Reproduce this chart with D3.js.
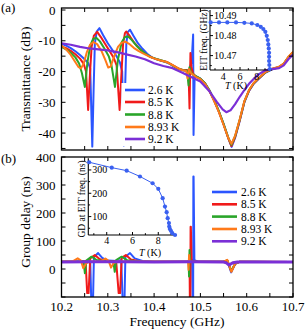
<!DOCTYPE html>
<html><head><meta charset="utf-8">
<script src="https://cdn.jsdelivr.net/npm/d3@7"></script>
<style>body{margin:0;background:#fff}svg{display:block}svg text{font-family:"Liberation Serif","Times New Roman",serif;fill:#000}</style>
</head><body><svg id="c" width="306" height="329" font-family="Liberation Serif, serif"></svg>
<script>
// ---------------- data ----------------
const temps = ["2.6 K", "8.5 K", "8.8 K", "8.93 K", "9.2 K"];
const colors = ["#2b55ff", "#f01a1a", "#2aa52a", "#ff7a1a", "#7b2fd6"];

const transBlue = [[10.200,-11.0],[10.210,-11.6],[10.220,-12.4],[10.230,-13.4],[10.240,-14.6],[10.250,-16.0],[10.258,-17.3],[10.262,-19],[10.2665,-44.4],[10.2695,-25],[10.272,-11],[10.276,-7],[10.282,-5.9],[10.290,-8.2],[10.300,-10.8],[10.310,-13],[10.318,-14.8],[10.326,-17],[10.331,-20],[10.3345,-44],[10.3375,-25],[10.340,-11],[10.343,-7.2],[10.348,-6.4],[10.355,-8.3],[10.365,-10.8],[10.375,-12.6],[10.385,-14.2],[10.395,-15.4],[10.405,-16],[10.415,-16.5],[10.425,-16.9],[10.435,-17.6],[10.445,-18.6],[10.455,-19.3],[10.465,-19.7],[10.475,-19.6],[10.481,-17],[10.4843,-8],[10.4852,-40.6],[10.4875,-22],[10.490,-21.5],[10.500,-22.3],[10.510,-23.8],[10.520,-26.3],[10.530,-29.5],[10.540,-33],[10.550,-37],[10.560,-41.5],[10.5675,-44.5],[10.575,-41.5],[10.585,-36],[10.595,-30],[10.605,-26.3],[10.615,-24],[10.625,-22.5],[10.640,-20.4],[10.655,-19.3],[10.670,-18.6],[10.680,-17.6],[10.690,-15.5],[10.700,-13.8]];
const transRed = [[10.200,-11.8],[10.210,-12.4],[10.220,-13.3],[10.230,-14.4],[10.240,-15.8],[10.248,-17.5],[10.253,-20],[10.2575,-32.5],[10.261,-22],[10.265,-12],[10.270,-8.3],[10.277,-7.1],[10.285,-8.8],[10.295,-11.2],[10.305,-13.6],[10.313,-15.6],[10.319,-18],[10.3255,-32.5],[10.329,-22],[10.333,-11],[10.337,-7.5],[10.340,-7.0],[10.348,-8.6],[10.358,-10.8],[10.368,-12.5],[10.378,-13.9],[10.390,-15.1],[10.402,-15.8],[10.415,-16.4],[10.428,-16.9],[10.440,-17.9],[10.452,-19],[10.462,-19.5],[10.471,-19.5],[10.4745,-21],[10.4765,-32],[10.4785,-14],[10.4805,-18.5],[10.484,-20.6],[10.490,-21.6],[10.500,-22.4],[10.510,-23.9],[10.520,-26.4],[10.530,-29.6],[10.540,-33.1],[10.550,-37.2],[10.560,-41.6],[10.567,-44.2],[10.575,-41.3],[10.585,-35.8],[10.595,-29.8],[10.605,-26.2],[10.615,-23.9],[10.625,-22.4],[10.640,-20.3],[10.655,-19.2],[10.670,-18.5],[10.680,-17.5],[10.690,-15.4],[10.700,-13.7]];
const transGreen = [[10.200,-12.0],[10.210,-12.8],[10.220,-13.9],[10.230,-15.4],[10.238,-17.4],[10.244,-20.5],[10.2505,-25],[10.256,-17],[10.262,-11.6],[10.268,-9.5],[10.275,-9.0],[10.283,-10.2],[10.293,-12.6],[10.302,-15],[10.308,-18],[10.3155,-25],[10.322,-16],[10.330,-10.5],[10.337,-8.8],[10.344,-8.6],[10.352,-9.8],[10.362,-11.6],[10.372,-13.1],[10.382,-14.3],[10.393,-15.3],[10.405,-15.9],[10.418,-16.5],[10.430,-17.1],[10.442,-18.2],[10.453,-19.1],[10.463,-19.6],[10.471,-19.7],[10.4745,-24.5],[10.4765,-18.6],[10.479,-20.2],[10.484,-20.9],[10.490,-21.5],[10.500,-22.3],[10.510,-23.8],[10.520,-26.2],[10.530,-29.4],[10.540,-32.9],[10.550,-37],[10.560,-41.4],[10.567,-43.8],[10.575,-41],[10.585,-35.6],[10.595,-29.7],[10.605,-26.1],[10.615,-23.8],[10.625,-22.3],[10.640,-20.3],[10.655,-19.2],[10.670,-18.5],[10.680,-17.5],[10.690,-15.3],[10.700,-13.7]];
const transOrange = [[10.200,-11.5],[10.210,-12.8],[10.220,-14.6],[10.230,-17],[10.237,-18.6],[10.242,-19],[10.248,-17.4],[10.255,-13.6],[10.262,-11.2],[10.269,-10.4],[10.277,-11.1],[10.287,-13.5],[10.295,-16.4],[10.301,-18.7],[10.306,-18.4],[10.313,-15.4],[10.322,-12],[10.330,-10.6],[10.338,-10.3],[10.346,-11],[10.356,-12.3],[10.366,-13.3],[10.377,-14.2],[10.389,-15.1],[10.401,-15.8],[10.414,-16.4],[10.427,-16.9],[10.440,-17.9],[10.452,-19],[10.462,-19.6],[10.469,-19.8],[10.4725,-22.3],[10.4752,-19.2],[10.479,-20.4],[10.484,-21],[10.490,-21.7],[10.500,-22.5],[10.510,-24],[10.520,-26.5],[10.530,-29.7],[10.540,-33.2],[10.550,-37.3],[10.560,-41.5],[10.567,-43.5],[10.575,-40.8],[10.585,-35.5],[10.595,-29.6],[10.605,-26],[10.615,-23.7],[10.625,-22.2],[10.640,-20.2],[10.655,-19.1],[10.670,-18.4],[10.680,-17.4],[10.690,-15.2],[10.700,-13.6]];
const transPurple = [[10.200,-10.8],[10.220,-11.3],[10.240,-12.0],[10.260,-12.5],[10.280,-12.8],[10.300,-13.1],[10.320,-13.7],[10.340,-14.4],[10.360,-15.1],[10.380,-16.0],[10.400,-17.3],[10.420,-18.2],[10.440,-18.9],[10.460,-20.3],[10.480,-21.8],[10.500,-23.2],[10.520,-26.5],[10.535,-29.8],[10.548,-32.3],[10.556,-33.2],[10.565,-32.6],[10.575,-30.6],[10.585,-28.2],[10.595,-26],[10.605,-24],[10.615,-22.4],[10.625,-21],[10.640,-19.6],[10.655,-19.2],[10.670,-18.9],[10.680,-18],[10.690,-16],[10.700,-14.5]];

const gdBlue = [[10.200,26],[10.220,26],[10.240,27],[10.255,28],[10.262,31],[10.2650,-160],[10.2675,-160],[10.270,42],[10.279,57],[10.288,40],[10.300,30],[10.320,29],[10.329,32],[10.3330,-160],[10.3355,-160],[10.338,44],[10.348,57],[10.358,38],[10.375,29],[10.400,26],[10.440,26],[10.475,27],[10.482,32],[10.4836,-160],[10.4843,-160],[10.4848,330],[10.4853,330],[10.487,32],[10.495,26],[10.550,26],[10.558,30],[10.5665,-12],[10.575,18],[10.585,26],[10.620,26],[10.660,25],[10.700,25]];
const gdRed = [[10.200,26],[10.240,27],[10.252,28],[10.2555,-86],[10.2585,-86],[10.262,38],[10.272,50],[10.282,36],[10.295,28],[10.318,29],[10.3235,-86],[10.3265,-86],[10.330,40],[10.339,50],[10.350,34],[10.370,27],[10.470,26],[10.4765,28],[10.4775,-160],[10.4782,-160],[10.4788,151],[10.4794,151],[10.481,28],[10.495,26],[10.550,26],[10.558,31],[10.5665,-8],[10.575,18],[10.585,26],[10.700,25]];
const gdGreen = [[10.200,26],[10.240,27],[10.2475,27],[10.2505,-15],[10.2535,30],[10.265,44],[10.276,32],[10.300,27],[10.312,27],[10.315,-10],[10.318,32],[10.330,44],[10.342,31],[10.370,27],[10.470,26],[10.4745,27],[10.4755,-27],[10.4765,68],[10.4775,28],[10.495,26],[10.550,26],[10.558,31],[10.5665,-6],[10.575,19],[10.585,26],[10.700,25]];
const gdOrange = [[10.200,26],[10.225,28],[10.235,38],[10.242,30],[10.247,3],[10.253,20],[10.262,27],[10.285,28],[10.295,37],[10.302,28],[10.307,5],[10.313,22],[10.322,27],[10.470,26],[10.4735,26],[10.4745,-3],[10.4755,50],[10.4765,27],[10.495,26],[10.550,26],[10.558,33],[10.567,-10],[10.575,20],[10.585,26],[10.700,25]];
const gdPurple = [[10.200,25],[10.260,26],[10.330,26],[10.400,25],[10.480,26],[10.550,25],[10.556,22],[10.562,14],[10.570,22],[10.580,25],[10.640,25],[10.700,25]];

// insets
const eitT = [2.48,3.48,4.48,5.52,6.52,7.41,8.08,8.49,8.80,9.04,9.21,9.33,9.40,9.45,9.49,9.49,9.49,9.52,9.57];
const eitF = [10.4866,10.4866,10.4866,10.4866,10.4864,10.4861,10.4853,10.4844,10.4833,10.4819,10.4799,10.4778,10.4756,10.4736,10.4714,10.4694,10.4673,10.4653,10.4633];
const gdT = [2.64,4.39,5.55,6.58,7.56,8.0,8.34,8.52,8.65,8.73,8.83,8.85,8.9,8.98,9.09,9.3];
const gdV = [333,310,297,272,243,219,179,143,119,93,72,57,47,39,29,21];

// tick labels
const freqTicks = [10.2,10.3,10.4,10.5,10.6,10.7];
const transTicks = [0,-10,-20,-30,-40];
const gdTicks = [0,100,200,300,400];
const inset1XTicks = [4,6,8];
const inset1YTicks = [10.47,10.48,10.49];
const inset2XTicks = [4,6,8];
const inset2YTicks = [100,200,300];

// ---------------- drawing ----------------
const svg = d3.select("#c");
const L = 61.5, R = 293;
const x = d3.scaleLinear([10.2,10.7],[L,R]);
const yT = d3.scaleLinear([-45.5,0.65],[150,8]);
const yG = d3.scaleLinear([-100,400],[297,157]);
const transSeries = [transBlue, transRed, transGreen, transOrange, transPurple];
const gdSeries = [gdBlue, gdRed, gdGreen, gdOrange, gdPurple];
const fmtMinus = d => d < 0 ? "-" + (-d) : String(d);

function panel(y, yTop, yBot, minorY, labels, series, id, purpleW){
  svg.append("clipPath").attr("id", id).append("rect")
    .attr("x", L).attr("y", yTop).attr("width", R-L).attr("height", yBot-yTop);
  const g = svg.append("g").attr("clip-path", `url(#${id})`);
  const line = d3.line().x(d => x(d[0])).y(d => y(d[1]));
  series.forEach((s,i) => {
    g.append("path").attr("d", line(s)).attr("fill","none")
      .attr("stroke", colors[i]).attr("stroke-width", i===4 ? purpleW : 2)
      .attr("stroke-linejoin","round");
  });
  const xt = d3.range(0,11).map(i => 10.2 + i*0.05);
  const ax = svg.append("g");
  xt.forEach(v => {
    ax.append("line").attr("x1",x(v)).attr("x2",x(v)).attr("y1",yBot).attr("y2",yBot-4).attr("stroke","#000");
    ax.append("line").attr("x1",x(v)).attr("x2",x(v)).attr("y1",yTop).attr("y2",yTop+4).attr("stroke","#000");
  });
  minorY.forEach(v => {
    ax.append("line").attr("x1",L).attr("x2",L+4).attr("y1",y(v)).attr("y2",y(v)).attr("stroke","#000");
    ax.append("line").attr("x1",R).attr("x2",R-4).attr("y1",y(v)).attr("y2",y(v)).attr("stroke","#000");
  });
  labels.forEach(v => {
    ax.append("text").attr("x", 55.5).attr("y", y(v)).attr("dy","0.36em")
      .attr("text-anchor","end").attr("font-size",13).text(fmtMinus(v));
  });
  svg.append("rect").attr("x",L).attr("y",yTop).attr("width",R-L).attr("height",yBot-yTop)
    .attr("fill","none").attr("stroke","#000").attr("stroke-width",1.3);
}

panel(yT, 8, 150, d3.range(-45,1,5), transTicks, transSeries, "clipA", 2.2);
panel(yG, 157, 297, d3.range(-100,401,50), gdTicks, gdSeries, "clipB", 3);

freqTicks.forEach(v => {
  svg.append("text").attr("x", x(v)).attr("y", 310.5).attr("text-anchor","middle")
    .attr("font-size",13).text(v.toFixed(1));
});

svg.append("text").attr("x",177).attr("y",325.5).attr("text-anchor","middle").attr("font-size",13.5).text("Frequency (GHz)");
svg.append("text").attr("transform","translate(29.5,79) rotate(-90)").attr("text-anchor","middle").attr("font-size",13.5).text("Transmittance (dB)");
svg.append("text").attr("transform","translate(29.5,222) rotate(-90)").attr("text-anchor","middle").attr("font-size",13.5).text("Group delay (ns)");
svg.append("text").attr("x",1).attr("y",11.5).attr("font-size",13).text("(a)");
svg.append("text").attr("x",1).attr("y",162.5).attr("font-size",13).text("(b)");

function legend(x1, x2, tx, ys, bg){
  const g = svg.append("g");
  if (bg) g.append("rect").attr("x",bg[0]).attr("y",bg[1]).attr("width",bg[2]).attr("height",bg[3]).attr("fill","#fff");
  temps.forEach((t,i) => {
    g.append("line").attr("x1",x1).attr("x2",x2).attr("y1",ys[i]).attr("y2",ys[i])
      .attr("stroke",colors[i]).attr("stroke-width",2.6);
    g.append("text").attr("x",tx).attr("y",ys[i]).attr("dy","0.35em").attr("font-size",11.5).text(t);
  });
}
legend(125, 145, 148, [90,102,114.5,127,139], [121.5,83,64,63]);
legend(212, 237, 241, [192,204.3,216.6,229,241.3], null);

const iblue = "#3a60f0";
function inset(xs, ys, xT, yT2, xMin, yMin, tx, ty, tickY, ylabel, yl, fmt, ptsX, ptsY){
  const [x0,x1] = xs.range(), [y0,y1] = ys.range();
  const g = svg.append("g");
  g.append("line").attr("x1",x0).attr("x2",x0).attr("y1",y0).attr("y2",y1).attr("stroke","#000").attr("stroke-width",1.1);
  g.append("line").attr("x1",x0).attr("x2",x1).attr("y1",y0).attr("y2",y0).attr("stroke","#000").attr("stroke-width",1.1);
  xT.forEach(v => g.append("line").attr("x1",xs(v)).attr("x2",xs(v)).attr("y1",y0).attr("y2",y0-3).attr("stroke","#000"));
  xMin.forEach(v => g.append("line").attr("x1",xs(v)).attr("x2",xs(v)).attr("y1",y0).attr("y2",y0-1.8).attr("stroke","#000"));
  yT2.forEach(v => g.append("line").attr("x1",x0).attr("x2",x0+3).attr("y1",ys(v)).attr("y2",ys(v)).attr("stroke","#000"));
  yMin.forEach(v => g.append("line").attr("x1",x0).attr("x2",x0+1.8).attr("y1",ys(v)).attr("y2",ys(v)).attr("stroke","#000"));
  xT.forEach(v => g.append("text").attr("x",xs(v)).attr("y",tickY).attr("text-anchor","middle").attr("font-size",10).text(v));
  yT2.forEach(v => g.append("text").attr("x",x0+4).attr("y",ys(v)).attr("dy","0.35em").attr("font-size",10).text(fmt(v)));
  const t = g.append("text").attr("x",tx).attr("y",ty).attr("text-anchor","middle").attr("font-size",10);
  t.append("tspan").attr("font-style","italic").text("T");
  t.append("tspan").text(" (K)");
  g.append("text").attr("transform",`translate(${yl[0]},${yl[1]}) rotate(-90)`).attr("text-anchor","middle").attr("font-size",9.5).text(ylabel);
  const pts = ptsX.map((v,i) => [v, ptsY[i]]);
  g.append("path").attr("d", d3.line().x(d=>xs(d[0])).y(d=>ys(d[1]))(pts)).attr("fill","none").attr("stroke",iblue).attr("stroke-width",1);
  pts.forEach(d => g.append("circle").attr("cx",xs(d[0])).attr("cy",ys(d[1])).attr("r",2.1).attr("fill",iblue));
}
const xI1 = d3.scaleLinear([2.4,9.84],[210,272]);
const yI1 = d3.scaleLinear([10.4628,10.4928],[70,10]);
inset(xI1, yI1, inset1XTicks, inset1YTicks, [3,5,7,9], [10.465,10.475,10.485], 236, 89, 79.5, "EIT freq. (GHz)", [207,40], v => v.toFixed(2), eitT, eitF);
const xI2 = d3.scaleLinear([2.57,9.43],[88.3,176.7]);
const yI2 = d3.scaleLinear([21,350],[235,158.3]);
inset(xI2, yI2, inset2XTicks, inset2YTicks, [3,5,7,9], [50,150,250], 150, 255.5, 244, "GD at EIT freq. (ns)", [84.5,199], v => v, gdT, gdV);
</script></body></html>
